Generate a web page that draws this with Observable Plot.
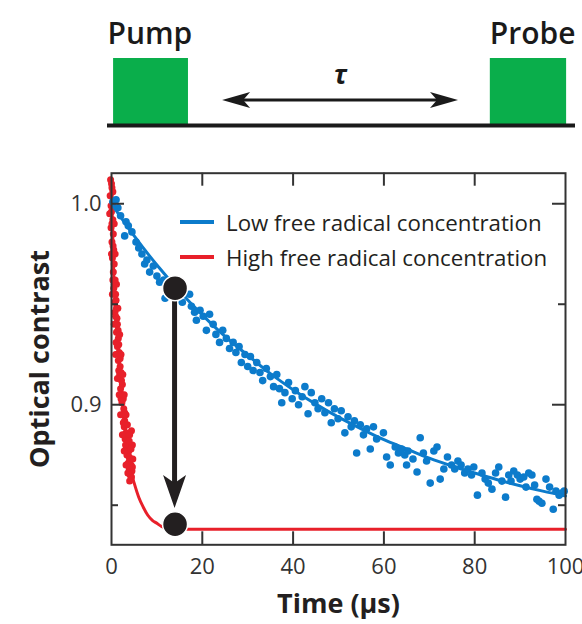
<!DOCTYPE html>
<html>
<head>
<meta charset="utf-8">
<script src="https://cdn.jsdelivr.net/npm/d3@7"></script>
<script src="https://cdn.jsdelivr.net/npm/@observablehq/plot@0.6"></script>
<style>
  body { margin: 0; background: #fff; font-family: "Open Sans", sans-serif; }
  #wrap { position: relative; width: 582px; height: 624px; overflow: hidden; background: #fff; }
  #diagram { position: absolute; left: 0; top: 0; }
  #chart { position: absolute; left: 0; top: 150px; }
  .lg-row { position: absolute; left: 180px; height: 30px; display: flex; align-items: center;
            font-family: "Open Sans", sans-serif; font-size: 22.3px; color: #231f20; white-space: nowrap; }
  .lg-sw { width: 34px; height: 4px; margin-right: 12px; }
</style>
</head>
<body>
<div id="wrap">
  <div id="diagram"></div>
  <div id="chart"></div>
</div>
<script>
// ---------------- data ----------------
const timeTicks = [0, 20, 40, 60, 80, 100];
const contrastTicks = [1.0, 0.9];
const contrastMinorTicks = [0.95, 0.85];
const xTitle = "Time (µs)";
const yTitle = "Optical contrast";
const seriesNames = ["Low free radical concentration", "High free radical concentration"];
const seriesColors = ["#0c7bcb", "#e8202a"];

// Low concentration: measured points [time, contrast]
const lowPoints = [
  [0.3,1.001],[1.0,1.002],[1.4,0.998],[2.0,0.994],[2.9,0.984],[3.2,0.991],[3.7,0.989],[4.5,0.986],
  [5.4,0.981],[6.0,0.978],[6.7,0.975],[7.3,0.970],[7.8,0.972],[8.4,0.966],[9.2,0.969],[10.0,0.964],
  [10.6,0.961],[11.5,0.962],[11.8,0.953],[12.5,0.958],[15.0,0.956],[15.6,0.951],[16.1,0.955],[17.2,0.955],
  [17.6,0.949],[18.3,0.946],[18.7,0.942],[19.5,0.947],[20.2,0.944],[20.9,0.937],[21.6,0.945],[22.4,0.940],
  [23.0,0.935],[23.8,0.931],[24.5,0.937],[25.3,0.933],[26.0,0.928],[26.8,0.931],[27.4,0.926],[28.1,0.929],
  [28.6,0.921],[29.4,0.925],[30.0,0.919],[30.6,0.924],[31.2,0.917],[32.0,0.921],[32.7,0.916],[33.3,0.912],
  [34.1,0.918],[35.0,0.914],[35.7,0.909],[36.4,0.915],[37.0,0.908],[37.5,0.901],[38.2,0.906],[39.0,0.911],
  [39.8,0.903],[40.5,0.907],[41.2,0.900],[42.0,0.904],[42.6,0.909],[43.3,0.8955],[44.0,0.906],[44.8,0.901],
  [45.5,0.898],[46.3,0.903],[47.0,0.896],[47.8,0.901],[48.4,0.891],[49.1,0.898],[49.9,0.893],[50.6,0.897],
  [51.4,0.886],[52.1,0.894],[52.8,0.889],[53.5,0.892],[54.0,0.876],[54.8,0.890],[55.5,0.885],[56.2,0.888],
  [57.0,0.878],[57.7,0.889],[58.4,0.883],[59.9,0.886],[60.6,0.874],[61.4,0.870],[62.5,0.879],[63.2,0.876],
  [63.9,0.878],[64.6,0.875],[65.0,0.870],[65.3,0.877],[66.4,0.873],[67.3,0.8665],[68.0,0.8836],[68.7,0.876],
  [69.4,0.872],[70.2,0.861],[71.0,0.877],[71.7,0.879],[72.4,0.863],[73.2,0.868],[74.0,0.874],[74.9,0.870],
  [75.6,0.868],[76.3,0.872],[77.0,0.870],[77.8,0.866],[78.5,0.868],[79.3,0.865],[79.8,0.869],[80.6,0.855],
  [81.6,0.866],[82.3,0.863],[83.0,0.861],[83.8,0.858],[84.6,0.866],[85.3,0.869],[86.0,0.862],[86.8,0.854],
  [87.5,0.865],[88.0,0.862],[88.6,0.867],[89.4,0.865],[90.0,0.863],[90.8,0.864],[91.3,0.859],[91.9,0.866],
  [92.6,0.865],[93.2,0.860],[93.7,0.853],[94.2,0.852],[94.8,0.851],[95.7,0.863],[96.5,0.859],[97.3,0.848],
  [97.9,0.857],[98.6,0.855],[99.2,0.856],[99.7,0.857]
];
// Low concentration: fitted curve [time, contrast]
const lowFit = [
  [0,1.000],[5,0.984],[10,0.9695],[15,0.9565],[20,0.9447],[25,0.934],[30,0.9246],[35,0.9155],
  [40,0.9075],[45,0.9003],[50,0.8938],[55,0.888],[60,0.8826],[65,0.878],[70,0.8734],[75,0.8695],
  [80,0.866],[85,0.8627],[90,0.8597],[95,0.857],[100,0.8546]
];
// High concentration: measured points [time, contrast]
const highPoints = [
  [-0.2,1.012],[0.1,1.008],[-0.3,1.004],[0.2,1.000],[0.0,0.996],[0.3,0.992],[-0.1,0.988],[0.4,0.985],
  [0.1,0.981],[0.5,0.977],[0.2,0.973],[0.6,0.970],[0.4,0.966],[0.8,0.962],[0.5,0.958],[0.9,0.955],
  [0.7,0.951],[1.1,0.948],[0.9,0.944],[1.3,0.940],[1.1,0.936],[1.5,0.933],[1.3,0.929],[1.7,0.926],
  [1.5,0.922],[1.9,0.919],[1.8,0.915],[2.2,0.912],[2.0,0.908],[2.4,0.905],[2.3,0.901],[2.7,0.898],
  [2.5,0.895],[2.9,0.892],[2.8,0.889],[3.2,0.886],[3.0,0.883],[3.6,0.881],[3.3,0.879],[3.8,0.877],
  [3.4,0.875],[4.0,0.873],[3.7,0.871],[4.3,0.870],[3.9,0.868],[4.5,0.867],[4.1,0.865],
  [0.0,1.010],[0.3,1.006],[-0.1,0.999],[0.1,0.990],[0.35,0.979],[0.3,0.962],[0.65,0.960],[1.0,0.952],
  [0.75,0.946],[1.2,0.943],[1.45,0.937],[1.0,0.931],[1.6,0.930],[1.9,0.923],[1.6,0.917],[2.1,0.916],
  [2.4,0.910],[2.1,0.903],[2.6,0.903],[2.9,0.896],[2.6,0.891],[3.1,0.890],[3.4,0.884],[3.1,0.880],
  [3.6,0.876],[3.9,0.874],[4.2,0.868],[4.6,0.869],[4.4,0.864],[4.4,0.887],[4.0,0.885],[4.6,0.880],
  [0.6,0.990],[-0.4,0.995],[0.8,0.975],[0.0,0.975],[1.1,0.960],[0.2,0.955],[1.4,0.948],[0.6,0.940],
  [1.8,0.935],[0.9,0.925],[2.1,0.925],[1.3,0.913],[2.5,0.915],[1.7,0.905],[2.8,0.905],[2.0,0.895],
  [3.2,0.895],[2.4,0.885],[3.5,0.890],[2.8,0.877],[3.9,0.882],[3.2,0.870],[4.3,0.878],[3.6,0.866],
  [4.7,0.873],[4.0,0.862]
];
// High concentration: fitted curve [time, contrast]
const highFit = [
  [0,1.012],[0.2,0.990],[0.5,0.965],[1.0,0.943],[1.5,0.926],[2.0,0.912],[2.5,0.900],[3.0,0.889],
  [3.5,0.879],[4.0,0.871],[4.5,0.865],[5.0,0.861],[6.0,0.854],[7.0,0.849],[8.0,0.845],[9.0,0.8425],
  [10,0.841],[11,0.8395],[12,0.8388],[14,0.838],[20,0.838],[100,0.838]
];
// probe-delay markers (time, contrast) and the drop arrow between them
const markerTime = [14, 14];
const markerContrast = [0.958, 0.8405];
const dropArrow = [{t1: 14, y1: 0.958, t2: 14, y2: 0.8484}];

// pulse-sequence diagram (arbitrary delay units along the time line 0..100)
const pulseNames = ["Pump", "Probe"];
const pulseStart = [1.3, 81.8];
const pulseEnd = [17.3, 98.1];
const delayLabel = "τ";
const delaySpan = [24.6, 75];

// ---------------- helpers ----------------
function headPath(tx, ty, ux, uy, len, half, notch) {
  const px = -uy, py = ux;
  const bx = tx - ux * len, by = ty - uy * len;
  const nx = tx - ux * (len - notch), ny = ty - uy * (len - notch);
  return `M${tx},${ty}L${bx + px * half},${by + py * half}L${nx},${ny}L${bx - px * half},${by - py * half}Z`;
}
function arrowMark(items, {color, width, len, half, notch, both}) {
  return (index, scales) => {
    const g = d3.create("svg:g");
    for (const a of items) {
      const x1 = scales.x(a.x1), y1 = scales.y(a.y1), x2 = scales.x(a.x2), y2 = scales.y(a.y2);
      const d = Math.hypot(x2 - x1, y2 - y1), ux = (x2 - x1) / d, uy = (y2 - y1) / d;
      const sx = both ? x1 + ux * (len - notch - 1) : x1, sy = both ? y1 + uy * (len - notch - 1) : y1;
      const ex = x2 - ux * (len - notch - 1), ey = y2 - uy * (len - notch - 1);
      g.append("line").attr("x1", sx).attr("y1", sy).attr("x2", ex).attr("y2", ey)
        .attr("stroke", color).attr("stroke-width", width);
      g.append("path").attr("d", headPath(x2, y2, ux, uy, len, half, notch)).attr("fill", color);
      if (both) g.append("path").attr("d", headPath(x1, y1, -ux, -uy, len, half, notch)).attr("fill", color);
    }
    return g.node();
  };
}

// ---------------- pulse diagram ----------------
const green = "#0aae4b";
const ink = "#1a1a1a";
const pulses = pulseNames.map((name, i) => ({name, start: pulseStart[i], end: pulseEnd[i]}));
const diagram = Plot.plot({
  width: 582, height: 140,
  marginLeft: 107, marginRight: 7, marginTop: 58, marginBottom: 15,
  x: {domain: [0, 100], axis: null},
  y: {domain: [0, 1], axis: null},
  style: {fontFamily: "'Open Sans', sans-serif", background: "white", overflow: "visible"},
  marks: [
    Plot.rect(pulses, {x1: "start", x2: "end", y1: 0, y2: 1, fill: green}),
    Plot.ruleY([0], {stroke: ink, strokeWidth: 4}),
    Plot.text(pulses.slice(0, 1), {x: 0, y: 1, text: "name", textAnchor: "start", dy: -24, fontSize: 30, fontWeight: 600, fill: ink}),
    Plot.text(pulses.slice(1), {x: 100, y: 1, text: "name", textAnchor: "end", dy: -24, fontSize: 30, fontWeight: 600, fill: ink}),
    Plot.text([delayLabel], {x: (delaySpan[0] + delaySpan[1]) / 2, y: 0.75, text: d => d, fontSize: 26, fontWeight: "bold", fontStyle: "italic", fill: ink}),
    arrowMark([{x1: delaySpan[0], y1: 0.373, x2: delaySpan[1], y2: 0.373}], {color: ink, width: 3, len: 28, half: 8, notch: 7, both: true})
  ]
});
document.getElementById("diagram").append(diagram);

// ---------------- main chart ----------------
const W = 582, H = 474, mL = 111, mR = 17, mT = 22.7, mB = 79.7;
const innerW = W - mL - mR, innerH = H - mT - mB;
const axisColor = "#333";
const toObj = ([t, y]) => ({t, y});
const low = lowPoints.map(toObj), lowLine = lowFit.map(toObj);
const high = highPoints.map(toObj), highLine = highFit.map(toObj);
const markers = markerTime.map((t, i) => ({t, y: markerContrast[i]}));
const innerXTicks = timeTicks.slice(1, -1);

const chart = Plot.plot({
  width: W, height: H,
  marginLeft: mL, marginRight: mR, marginTop: mT, marginBottom: mB,
  x: {domain: [0, 100]},
  y: {domain: [0.8303, 1.0152]},
  style: {fontFamily: "'Open Sans', sans-serif", background: "white", color: axisColor, overflow: "visible"},
  marks: [
    Plot.line(highLine, {x: "t", y: "y", stroke: seriesColors[1], strokeWidth: 3, curve: "monotone-x"}),
    Plot.dot(high, {x: "t", y: "y", r: 3.5, fill: seriesColors[1]}),
    Plot.dot(low, {x: "t", y: "y", r: 3.8, fill: seriesColors[0]}),
    Plot.line(lowLine, {x: "t", y: "y", stroke: seriesColors[0], strokeWidth: 3, curve: "monotone-x"}),
    // inward ticks on all four sides
    Plot.tickX(innerXTicks, {x: d => d, insetTop: innerH - 13, stroke: axisColor, strokeWidth: 2}),
    Plot.tickX(innerXTicks, {x: d => d, insetBottom: innerH - 13, stroke: axisColor, strokeWidth: 2}),
    Plot.tickY(contrastTicks, {y: d => d, insetRight: innerW - 13, stroke: axisColor, strokeWidth: 2}),
    Plot.tickY(contrastTicks, {y: d => d, insetLeft: innerW - 13, stroke: axisColor, strokeWidth: 2}),
    Plot.tickY(contrastMinorTicks, {y: d => d, insetRight: innerW - 7, stroke: axisColor, strokeWidth: 2}),
    Plot.tickY(contrastMinorTicks, {y: d => d, insetLeft: innerW - 7, stroke: axisColor, strokeWidth: 2}),
    Plot.frame({stroke: axisColor, strokeWidth: 2}),
    Plot.axisX(timeTicks, {anchor: "bottom", tickSize: 0, tickPadding: 14, fontSize: 22, label: null}),
    Plot.axisY(contrastTicks, {anchor: "left", tickSize: 0, tickPadding: 10, fontSize: 22, tickFormat: d => d.toFixed(1), label: null}),
    Plot.text([xTitle], {frameAnchor: "bottom", lineAnchor: "middle", textAnchor: "middle", dy: 60, text: d => d, fontSize: 27, fontWeight: "bold", fill: "#231f20"}),
    Plot.text([yTitle], {frameAnchor: "left", lineAnchor: "middle", textAnchor: "middle", rotate: -90, dx: -71, text: d => d, fontSize: 27, fontWeight: "bold", fill: "#231f20"}),
    arrowMark(dropArrow.map(a => ({x1: a.t1, y1: a.y1, x2: a.t2, y2: a.y2})), {color: "#231f20", width: 5, len: 33, half: 11.5, notch: 8, both: false}),
    Plot.dot(markers, {x: "t", y: "y", r: 12.5, fill: "#231f20", stroke: "white", strokeWidth: 1.5})
  ]
});
document.getElementById("chart").append(chart);

// ---------------- legend (inside frame, top right) ----------------
const wrap = document.getElementById("wrap");
const legendCenters = [222, 257];
seriesNames.forEach((name, i) => {
  const row = document.createElement("div");
  row.className = "lg-row";
  row.style.top = (legendCenters[i] - 15) + "px";
  const sw = document.createElement("div");
  sw.className = "lg-sw";
  sw.style.background = seriesColors[i];
  const tx = document.createElement("span");
  tx.textContent = name;
  row.append(sw, tx);
  wrap.append(row);
});
</script>
</body>
</html>
